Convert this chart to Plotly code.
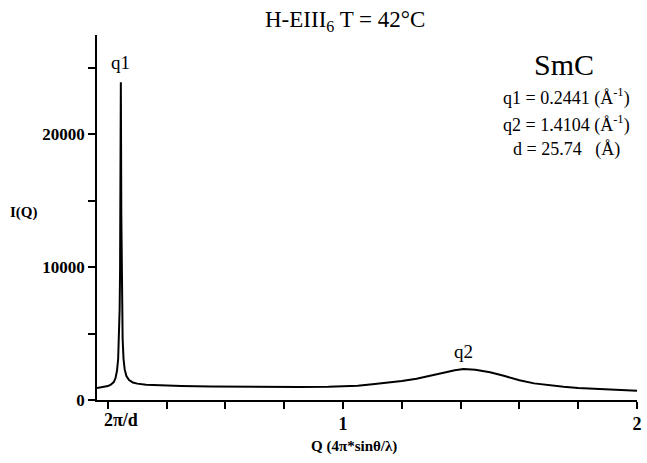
import plotly.graph_objects as go

# Scattering profile I(Q)
q_vals = [0.163, 0.18, 0.20, 0.21, 0.22, 0.226, 0.231, 0.235, 0.238, 0.240, 0.2415,
          0.2425, 0.2433, 0.2441, 0.2449, 0.2457, 0.2467, 0.2482, 0.2502, 0.2532,
          0.2572, 0.263, 0.272, 0.285, 0.30, 0.33, 0.38, 0.45, 0.55, 0.65, 0.75,
          0.85, 0.95, 1.00, 1.05, 1.10, 1.15, 1.20, 1.25, 1.30, 1.35, 1.38, 1.41,
          1.45, 1.50, 1.55, 1.60, 1.65, 1.70, 1.75, 1.80, 1.87, 1.94, 2.00]
i_vals = [900, 960, 1050, 1150, 1350, 1650, 2200, 3100, 4600, 6800, 9800,
          14000, 19000, 23900, 19000, 14000, 9800, 6800, 4600, 3100,
          2300, 1800, 1500, 1320, 1230, 1150, 1100, 1060, 1020, 990, 975,
          980, 990, 1010, 1080, 1190, 1300, 1430, 1600, 1820, 2080, 2230, 2330,
          2270, 2080, 1800, 1480, 1250, 1100, 990, 900, 810, 740, 690]

x_tick_vals = [0.2, 0.4, 0.6, 0.8, 1.0, 1.2, 1.4, 1.6, 1.8, 2.0]
x_tick_text = ["", "", "", "", "1", "", "", "", "", "2"]
y_tick_vals = [0, 5000, 10000, 15000, 20000, 25000]
y_tick_text = ["0", "", "10000", "", "20000", ""]

q1, q2, d_spacing = 0.2441, 1.4104, 25.74
peak1_i, peak2_i = 23900, 2330

SERIF = "Liberation Serif"

fig = go.Figure()
fig.add_trace(go.Scatter(x=q_vals, y=i_vals, mode="lines",
                         line=dict(color="black", width=2), showlegend=False,
                         hoverinfo="skip"))

axis_common = dict(showline=True, linecolor="black", linewidth=1.5,
                   ticks="outside", ticklen=7, tickwidth=1.5, tickcolor="black",
                   showgrid=False, zeroline=False, mirror=False)

fig.update_xaxes(range=[0.163, 2.0], tickvals=x_tick_vals, ticktext=x_tick_text,
                 tickfont=dict(family=SERIF, size=18, color="black", weight="bold"),
                 **axis_common)
fig.update_yaxes(range=[0, 27450], tickvals=y_tick_vals, ticktext=y_tick_text,
                 tickfont=dict(family=SERIF, size=17, color="black", weight="bold"),
                 **axis_common)


def pann(text, x, y, size, xref="paper", yref="paper", **kw):
    d = dict(text=text, x=x, y=y, xref=xref, yref=yref, showarrow=False,
             xanchor="center", yanchor="middle",
             font=dict(family=SERIF, size=size, color="black"))
    d.update(kw)
    return d


ann = [
    pann("H-EIII<sub>6</sub> T = 42°C", 0.4587, 1.038, 23),
    pann("SmC", 0.864, 0.918, 30),
    pann(f"q1 = {q1:.4f} (Å<sup>-1</sup>)", 0.870, 0.830, 18),
    pann(f"q2 = {q2:.4f} (Å<sup>-1</sup>)", 0.870, 0.756, 18),
    pann(f"d = {d_spacing:.2f}   (Å)", 0.870, 0.685, 18),
    pann("q1", q1, peak1_i, 19, xref="x", yref="y", yanchor="bottom", yshift=7),
    pann("q2", q2, peak2_i, 19, xref="x", yref="y", yanchor="bottom", yshift=5),
    pann("<b>2π/d</b>", q1, -0.055, 18, xref="x"),
    pann("<b>Q (4π*sinθ/λ)</b>", 0.475, -0.127, 15),
    pann("<b>I(Q)</b>", -0.136, 0.515, 15),
]

fig.update_layout(width=647, height=463, margin=dict(l=97, r=5, t=35, b=63),
                  plot_bgcolor="white", paper_bgcolor="white", annotations=ann)

fig.write_html("out.html")
